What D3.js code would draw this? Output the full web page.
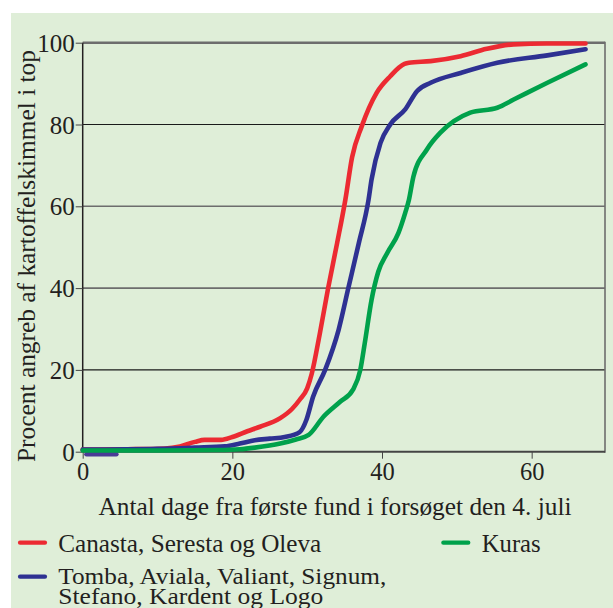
<!DOCTYPE html>
<html><head><meta charset="utf-8">
<script src="https://cdn.jsdelivr.net/npm/d3@7"></script>
<style>body{margin:0;background:#fff}svg{display:block}</style>
</head><body>
<script>
const xTicks = [0, 20, 40, 60];
const yTicks = [0, 20, 40, 60, 80, 100];
const seriesNames = ["Canasta, Seresta og Oleva", "Tomba, Aviala, Valiant, Signum,|Stefano, Kardent og Logo", "Kuras"];
const seriesColors = ["#ec2a32", "#2e3192", "#00a14b"];
const redDays = [0,6,11,13,15,16.3,18.5,20,22,23.7,26.4,28,29,30,30.6,31.7,32.8,34,35.1,36,37.3,39.3,41.1,43,43.6,46.5,50.5,54,57.6,62,67.2];
const redVals = [0.5,0.6,0.8,1.3,2.4,2.9,2.9,3.6,5,6.1,8.2,10.5,12.7,15.5,19,29,40,51,61.6,72,79.6,87.8,91.8,94.8,95.1,95.5,96.7,98.5,99.6,99.8,99.8];
const blueDays = [0,10,15,19,21,23,25,27,29,29.9,30.8,32.4,34.2,35.5,36.9,38.2,38.6,39.8,41.1,43.1,44.7,46.5,50.5,55.4,62.1,67.2];
const blueVals = [0.5,0.7,1,1.3,2,2.8,3.2,3.6,4.8,7.8,13.5,20,29.8,40,51,61.6,66.5,75.5,80,83.7,88.2,90.2,92.6,95.1,96.9,98.4];
const blueStubDays = [0.5, 4.5];
const blueStubVals = [-0.6, -0.6];
const greenDays = [0,10,18,21,23,26.4,28.5,30.2,32.2,34.4,36.1,37.1,37.7,38.6,39.5,40.7,42.2,43.1,43.6,44.2,46,47.8,49.6,51.8,55.4,57.6,62.1,67.2];
const greenVals = [0.3,0.3,0.4,0.6,1,2,3,4.1,8.6,12.2,15.1,20,26.6,37.1,44,48.6,53.5,58.4,61.6,67.3,73.9,78,80.8,82.9,84.1,86.1,90.2,94.7];

const W = 613, H = 608;
const FONT = '"Liberation Serif"';
const TXT = "#231f20";
const svg = d3.select("body").append("svg").attr("width", W).attr("height", H);
svg.append("rect").attr("x", 11).attr("y", 13).attr("width", W - 11).attr("height", H - 13).attr("fill", "#dfeed8");

const x = d3.scaleLinear().domain([0, 69.8]).range([82.7, 605]);
const y = d3.scaleLinear().domain([0, 100]).range([451.7, 42.7]);

// gridlines
const gridStyle = {20: ["#1a1a1a", 1.2], 40: ["#6d6d6d", 1.6], 60: ["#6d6d6d", 1.6], 80: ["#1a1a1a", 1.2], 100: ["#6d6d6d", 2.6]};
yTicks.filter(t => t > 0).forEach(t => {
  svg.append("line").attr("x1", x(0)).attr("x2", 605).attr("y1", y(t)).attr("y2", y(t))
    .attr("stroke", gridStyle[t][0]).attr("stroke-width", gridStyle[t][1]);
});
// right border
svg.append("line").attr("x1", 605).attr("x2", 605).attr("y1", y(100) - 1).attr("y2", y(0) + 1).attr("stroke", "#6d6d6d").attr("stroke-width", 1.6);

// axes
const xAxis = svg.append("g").attr("transform", `translate(0,${y(0)})`)
  .call(d3.axisBottom(x).tickValues(xTicks).tickSize(7).tickPadding(4));
xAxis.select(".domain").attr("stroke", "#444").attr("stroke-width", 2).attr("d", `M${x(0)},0H605`);
xAxis.selectAll(".tick line").attr("stroke", "#444").attr("stroke-width", 1);
xAxis.selectAll(".tick text").attr("font-size", 24.5).attr("fill", TXT).attr("dy", "0.7em").style("font-family", FONT);

const yAxis = svg.append("g").attr("transform", `translate(${x(0)},0)`)
  .call(d3.axisLeft(y).tickValues(yTicks).tickSize(7).tickPadding(1));
yAxis.select(".domain").attr("stroke", TXT).attr("stroke-width", 1.5).attr("d", `M0,${y(0)}V${y(100)}`);
yAxis.selectAll(".tick line").attr("stroke", "#444").attr("stroke-width", 1);
yAxis.selectAll(".tick text").attr("font-size", 25).attr("fill", TXT).attr("dy", "0.34em").style("font-family", FONT);

// lines
const line = d3.line().x(d => x(d[0])).y(d => y(d[1])).curve(d3.curveMonotoneX);
const zip = (a, b) => a.map((d, i) => [d, b[i]]);
svg.append("path").datum(zip(blueStubDays, blueStubVals)).attr("d", line)
  .attr("fill", "none").attr("stroke", "#4a3b96").attr("stroke-width", 4.5).attr("stroke-linecap", "round");
const series = [zip(redDays, redVals), zip(blueDays, blueVals), zip(greenDays, greenVals)];
series.forEach((s, i) => {
  svg.append("path").datum(s).attr("d", line).attr("fill", "none")
    .attr("stroke", seriesColors[i]).attr("stroke-width", 4.6)
    .attr("stroke-linecap", "round").attr("stroke-linejoin", "round");
});

// axis titles
svg.append("text").attr("x", 335).attr("y", 515).attr("text-anchor", "middle")
  .attr("font-size", 25.5).attr("fill", TXT).style("font-family", FONT)
  .attr("textLength", 473).attr("lengthAdjust", "spacingAndGlyphs")
  .text("Antal dage fra første fund i forsøget den 4. juli");
svg.append("text").attr("transform", "translate(35,256) rotate(-90)").attr("text-anchor", "middle")
  .attr("font-size", 25.5).attr("fill", TXT).style("font-family", FONT)
  .attr("textLength", 412).attr("lengthAdjust", "spacingAndGlyphs")
  .text("Procent angreb af kartoffelskimmel i top");

// legend
const legendItems = [
  {i: 0, lx: 20, ly: 542.7, tx: 58.3, ty: 551.7, fs: 25.5, gap: 0, widths: [263]},
  {i: 1, lx: 20, ly: 576.7, tx: 58.3, ty: 583.5, fs: 23, gap: 20.5, widths: [328, 265]},
  {i: 2, lx: 443.3, ly: 542.7, tx: 481.7, ty: 551.7, fs: 25.5, gap: 0, widths: [59]}
];
legendItems.forEach(it => {
  svg.append("line").attr("x1", it.lx).attr("x2", it.lx + 25).attr("y1", it.ly).attr("y2", it.ly)
    .attr("stroke", seriesColors[it.i]).attr("stroke-width", 4.2).attr("stroke-linecap", "round");
  seriesNames[it.i].split("|").forEach((t, k) => {
    svg.append("text").attr("x", it.tx).attr("y", it.ty + k * it.gap).attr("font-size", it.fs)
      .attr("fill", TXT).style("font-family", FONT)
      .attr("textLength", it.widths[k]).attr("lengthAdjust", "spacingAndGlyphs").text(t);
  });
});
</script>
</body></html>
